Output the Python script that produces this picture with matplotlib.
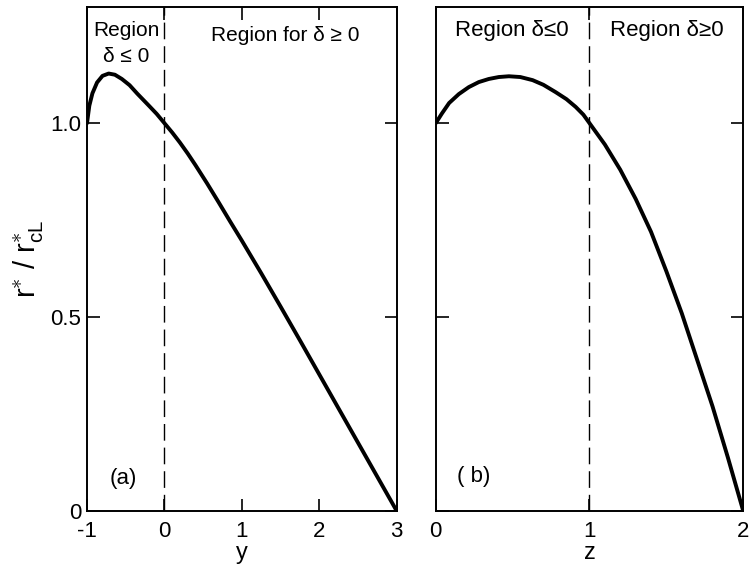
import matplotlib.pyplot as plt

plt.rcParams['font.family'] = ['Liberation Sans', 'DejaVu Sans']
plt.rcParams['mathtext.fontset'] = 'custom'
plt.rcParams['mathtext.rm'] = 'Liberation Sans'
plt.rcParams['mathtext.it'] = 'Liberation Sans'

# panel (a): r*/r*_cL vs y
y_a = [-1.0, -0.97, -0.93, -0.87, -0.8, -0.72, -0.64, -0.55, -0.45, -0.35, -0.2, -0.1,
       0.0, 0.1, 0.2, 0.3, 0.4, 0.55, 0.7, 0.85, 1.0, 1.25, 1.5, 1.75, 2.0, 2.25,
       2.5, 2.75, 3.0]
r_a = [1.0, 1.045, 1.077, 1.105, 1.122, 1.128, 1.125, 1.114, 1.098, 1.076, 1.045, 1.024,
       1.0, 0.976, 0.95, 0.922, 0.892, 0.845, 0.796, 0.746, 0.697, 0.613, 0.527, 0.44,
       0.352, 0.264, 0.176, 0.088, 0.0]

# panel (b): r*/r*_cL vs z
z_b = [0.0, 0.04, 0.087, 0.15, 0.215, 0.28, 0.345, 0.41, 0.476, 0.55, 0.63, 0.7,
       0.78, 0.85, 0.91, 0.96, 1.0, 1.1, 1.2, 1.3, 1.4, 1.5, 1.6, 1.7, 1.8, 1.9, 2.0]
r_b = [1.0, 1.025, 1.052, 1.075, 1.093, 1.106, 1.114, 1.119, 1.121, 1.119, 1.111, 1.099,
       1.08, 1.062, 1.042, 1.022, 1.0, 0.945, 0.88, 0.805, 0.72, 0.618, 0.51, 0.39,
       0.27, 0.138, 0.0]

fig = plt.figure(figsize=(7.5, 5.7), dpi=100)
ax1 = fig.add_axes([0.116, 0.1035, 0.413, 0.8845])
ax2 = fig.add_axes([0.581, 0.1035, 0.410, 0.8845])

for ax in (ax1, ax2):
    ax.set_ylim(0, 1.3)
    ax.set_yticks([0, 0.5, 1.0])
    ax.tick_params(direction='in', length=9, width=1.2, top=True, right=True,
                   labelsize=16)
    ax.tick_params(axis='y', pad=4)
    ax.tick_params(axis='x', pad=7)
    for s in ax.spines.values():
        s.set_linewidth(1.4)

# (a)
ax1.plot(y_a, r_a, color='black', lw=2.8, solid_capstyle='round')
ax1.axvline(0, color='black', lw=1.0, ls=(0, (12, 5)))
ax1.set_xlim(-1, 3)
ax1.set_xticks([-1, 0, 1, 2, 3])
ax1.set_xticklabels(['-1', '0', '1', '2', '3'])
ax1.set_yticklabels(['0', '0.5', '1.0'])
ax1.set_xlabel('y', fontsize=17, labelpad=0)
ax1.set_ylabel(r'r$^{\ast}$ / r$^{\ast}_{\mathregular{cL}}$', fontsize=21, labelpad=4)
ax1.text(-0.49, 1.238, 'Region', fontsize=15, ha='center', va='center')
ax1.text(-0.49, 1.173, 'δ ≤ 0', fontsize=15, ha='center', va='center')
ax1.text(1.56, 1.225, 'Region for δ ≥ 0', fontsize=15, ha='center', va='center')
ax1.text(-0.53, 0.085, '(a)', fontsize=16, ha='center', va='center')

# (b)
ax2.plot(z_b, r_b, color='black', lw=2.8, solid_capstyle='round')
ax2.axvline(1, color='black', lw=1.0, ls=(0, (12, 5)))
ax2.set_xlim(0, 2)
ax2.set_xticks([0, 1, 2])
ax2.set_xticklabels(['0', '1', '2'])
ax2.set_yticklabels([])
ax2.set_xlabel('z', fontsize=17, labelpad=0)
ax2.text(0.495, 1.238, 'Region δ≤0', fontsize=16, ha='center', va='center')
ax2.text(1.505, 1.238, 'Region δ≥0', fontsize=16, ha='center', va='center')
ax2.text(0.25, 0.09, '( b)', fontsize=16, ha='center', va='center')

fig.savefig('out.png', dpi=100)
